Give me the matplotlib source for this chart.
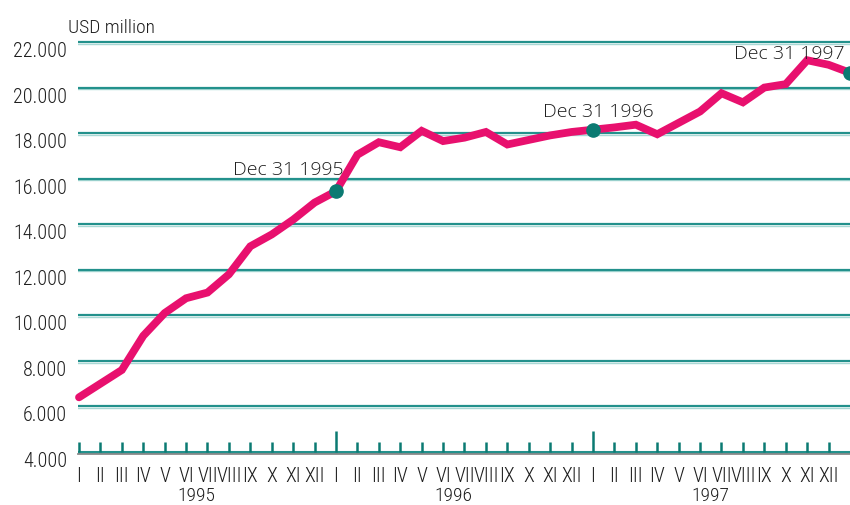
import matplotlib
matplotlib.use("Agg")
import matplotlib.pyplot as plt
import matplotlib.transforms as mtransforms
from matplotlib import font_manager as fm

# ---- data ----
months = ["I", "II", "III", "IV", "V", "VI", "VII", "VIII", "IX", "X", "XI", "XII"]
years = ["1995", "1996", "1997"]
values = [6400, 7000, 7600, 9100, 10100, 10750, 11000, 11800, 13030, 13550,
          14200, 14950, 15450, 17050, 17600, 17380, 18100, 17650, 17800, 18050,
          17500, 17700, 17900, 18050, 18150, 18250, 18370, 17950, 18450, 18950,
          19750, 19350, 20000, 20150, 21200, 21000, 20650]
marker_idx = [12, 24, 36]
marker_labels = ["Dec 31 1995", "Dec 31 1996", "Dec 31 1997"]
label_pos = [(7.19, 16160), (21.66, 18706), (30.6, 21250)]
yticks = [4000, 6000, 8000, 10000, 12000, 14000, 16000, 18000, 20000, 22000]
ytick_labels = ["4.000", "6.000", "8.000", "10.000", "12.000", "14.000",
                "16.000", "18.000", "20.000", "22.000"]
unit_label = "USD million"

# ---- style ----
PINK = "#e8106e"
TEAL = "#23918c"
DOT = "#0b7a72"
TXT = "#1e1e1e"
installed = {f.name for f in fm.fontManager.ttflist}
cands = ["Liberation Sans Narrow", "Roboto Condensed", "Open Sans Condensed",
         "DejaVu Sans Condensed", "Noto Sans Condensed", "Arial Narrow"]
narrow_found = [c for c in cands if c in installed]
NARROW = narrow_found[:1] + ["Liberation Sans", "DejaVu Sans"]
NSCALE = 1.0 if narrow_found else 0.82
REG = ["Open Sans", "Liberation Sans", "DejaVu Sans"]
LW = "light"

W, H = 850, 505
fig = plt.figure(figsize=(W / 100, H / 100), dpi=100)
ax_left, ax_right, ax_bot, ax_top = 78, 850, 454, 38
ax = fig.add_axes([ax_left / W, (H - ax_bot) / H, (ax_right - ax_left) / W,
                   (ax_bot - ax_top) / H])
ppu = 22.78 / 1000.0
ax.set_ylim(4000 - 2 / ppu, 22000 + 4 / ppu)
ax.set_xlim(-1 / 21.42, 36.0)
for s in ax.spines.values():
    s.set_visible(False)
ax.spines["bottom"].set_visible(True)
ax.spines["bottom"].set_color("#8a8a8a")
ax.spines["bottom"].set_linewidth(1.3)

# gridlines
shift = ax.get_yaxis_transform() + mtransforms.ScaledTranslation(0, -1.2 / 72, fig.dpi_scale_trans)
for yv in yticks[1:]:
    ax.plot([0, 1], [yv, yv], color="#a8d8d5", lw=1.0, zorder=1, transform=shift)
    ax.axhline(yv, color=TEAL, lw=1.6, zorder=1.1)
ax.axhline(4000, color=TEAL, lw=2.2, zorder=1.1)

# month ticks
n = len(values) - 1
for k in range(n):
    h = 920 if (k % 12 == 0 and k > 0) else 440
    ax.vlines(k, 4000, 4000 + h, color=DOT, lw=1.8, zorder=1.2)

# line
xs = list(range(len(values)))
ax.plot(xs, values, color=PINK, lw=5.6, solid_joinstyle="miter",
        solid_capstyle="round", zorder=3, clip_on=False)
ax.plot(marker_idx, [values[i] for i in marker_idx], "o", color=DOT,
        ms=9.5, zorder=4, clip_on=False)
for (lx, ly), lab in zip(label_pos, marker_labels):
    ax.text(lx, ly, lab, ha="left", va="baseline", fontsize=14,
            family=REG, fontweight=LW, color=TXT, zorder=5, clip_on=False)

# ticks & labels
ax.set_yticks(yticks)
ax.set_yticklabels(ytick_labels, family=NARROW, fontweight=LW,
                   fontsize=14.5 * NSCALE, color=TXT)
for lab in ax.get_yticklabels():
    lab.set_va("top")
ax.tick_params(axis="y", length=0, pad=8)
ax.set_xticks(range(n))
ax.set_xticklabels(months * 3, family=NARROW, fontweight=LW,
                   fontsize=14.5 * NSCALE, color=TXT)
ax.tick_params(axis="x", length=0, pad=9.5)
for i, yr in enumerate(years):
    ax.annotate(yr, xy=(12 * i + 5.5, 0), xycoords=("data", "axes fraction"),
                xytext=(0, -24.0), textcoords="offset points", ha="center",
                va="top", family=NARROW, fontweight=LW, fontsize=14 * NSCALE,
                color=TXT, annotation_clip=False)

fig.text(68 / W, (H - 33) / H, unit_label, ha="left", va="baseline",
         family=NARROW, fontweight=LW, fontsize=14 * NSCALE, color=TXT)

fig.savefig("out.png", dpi=100)
